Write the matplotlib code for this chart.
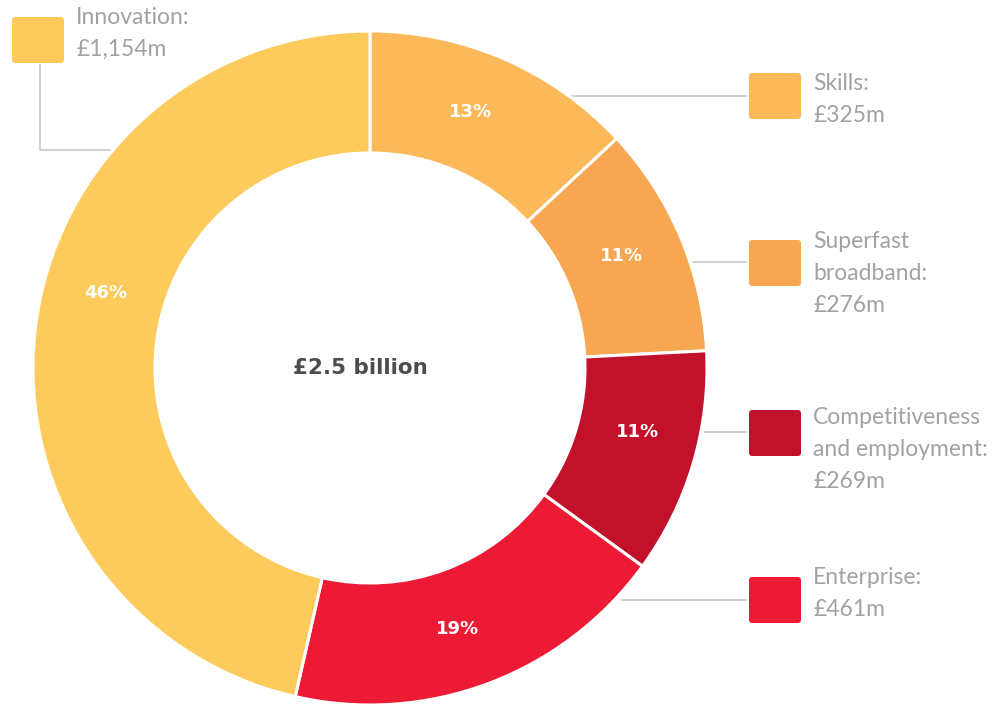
import matplotlib
matplotlib.use("Agg")
import matplotlib.pyplot as plt
from matplotlib.patches import FancyBboxPatch
import numpy as np

# ---- data ----
categories = ["Skills", "Superfast broadband", "Competitiveness and employment", "Enterprise", "Innovation"]
values = [325, 276, 269, 461, 1154]   # £m
legend_texts = ["Skills:\n£325m", "Superfast\nbroadband:\n£276m",
                "Competitiveness\nand employment:\n£269m", "Enterprise:\n£461m",
                "Innovation:\n£1,154m"]
center_text = "£2.5 billion"
colors = ["#FBB959", "#F7A652", "#C2122B", "#ED1A36", "#FDCB5B"]

W, H = 996, 704
fig = plt.figure(figsize=(W / 100, H / 100), dpi=100)
ax = fig.add_axes([0, 0, 1, 1])

def Y(y):  # convert top-down pixel y to data y
    return H - y

cx, cy = 370, Y(368)
R, width = 337, 122
total = sum(values)

wedges, _ = ax.pie(values, colors=colors, startangle=90, counterclock=False,
                   center=(cx, cy), radius=R,
                   wedgeprops=dict(width=width, edgecolor="white", linewidth=2.2))

# percentage labels at mid ring (small angular nudges, degrees)
angle_nudge = [2, 1, 3, -2, -9.5]
rmid = 275
for w, v, dn in zip(wedges, values, angle_nudge):
    ang = np.deg2rad((w.theta1 + w.theta2) / 2 + dn)
    ax.text(cx + rmid * np.cos(ang), cy + rmid * np.sin(ang),
            f"{round(100 * v / total)}%", color="white", fontsize=13,
            fontweight="bold", ha="center", va="center", family="DejaVu Sans")

ax.text(cx - 10, cy, center_text, fontsize=15.5, fontweight="bold", color="#4d4d4f",
        ha="center", va="center", family="DejaVu Sans")

# legend boxes and texts
line_col = "#c8c8c8"
txt_col = "#a2a2a4"
boxes = [(749, 73), (749, 240), (749, 410), (749, 577), (12, 17)]
text_x = [813, 813, 813, 813, 76]
text_y0 = [83, 242, 418, 578, 17]
for (bx, by), tx, ty, col, lab in zip(boxes, text_x, text_y0, colors, legend_texts):
    p = FancyBboxPatch((bx, Y(by + 46)), 52, 46,
                       boxstyle="round,pad=0,rounding_size=3",
                       facecolor=col, edgecolor="none")
    ax.add_patch(p)
    for i, line in enumerate(lab.split("\n")):
        ax.text(tx, Y(ty + 32 * i), line, fontsize=16.5, color=txt_col, ha="left",
                va="center", fontweight="normal", family=["Lato", "DejaVu Sans"])

# leader lines
leaders = [
    ([570, 746], [96, 96]),
    ([693, 746], [262, 262]),
    ([705, 746], [432, 432]),
    ([622, 746], [600, 600]),
    ([40, 40, 110], [65, 150, 150]),
]
for xs, ys in leaders:
    ax.plot(xs, [Y(v) for v in ys], color=line_col, linewidth=1.2, zorder=0)

ax.set_xlim(0, W)
ax.set_ylim(0, H)
ax.set_aspect("equal")
ax.axis("off")
fig.savefig("out.png", dpi=100, facecolor="white")
